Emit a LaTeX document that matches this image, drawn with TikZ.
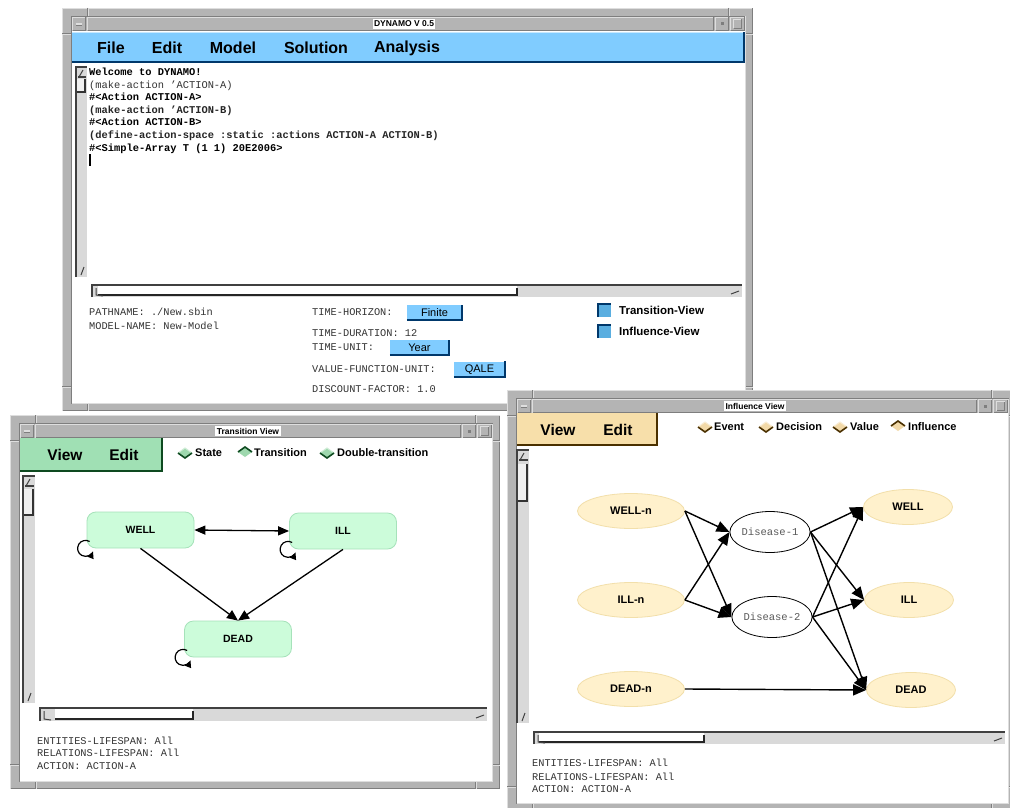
\documentclass[tikz,border=0pt]{standalone}
\usepackage{fontspec}
\setmainfont{Liberation Sans}
\newfontfamily\monof{Liberation Mono}
\usetikzlibrary{arrows.meta,shapes.geometric}

\definecolor{frm}{HTML}{B4B4B4}
\definecolor{frmhi}{HTML}{DEDEDE}
\definecolor{frmlo}{HTML}{7E7E7E}
\definecolor{trough}{HTML}{D9D9D9}
\definecolor{menublue}{HTML}{80CCFF}
\definecolor{navy}{HTML}{00386B}
\definecolor{chkblue}{HTML}{5AAEE0}
\definecolor{menugreen}{HTML}{A0E0B4}
\definecolor{dkgreen}{HTML}{0E4A20}
\definecolor{leggreen}{HTML}{9ED8AE}
\definecolor{stategreen}{HTML}{CCFCDA}
\definecolor{stateedge}{HTML}{A6E2BA}
\definecolor{menutan}{HTML}{F7DFAA}
\definecolor{dkbrown}{HTML}{4A3000}
\definecolor{legtan}{HTML}{F2D9A8}
\definecolor{nodetan}{HTML}{FFF1CC}
\definecolor{nodetanedge}{HTML}{F2DFAA}
\definecolor{infotext}{HTML}{333333}

% bevelled edges
\newcommand{\raisededge}[4]{%
  \draw[frmhi] ({#1+0.5},{#4-0.5}) -- ({#1+0.5},{#2+0.5}) -- ({#3-0.5},{#2+0.5});
  \draw[frmlo] ({#1+0.5},{#4-0.5}) -- ({#3-0.5},{#4-0.5}) -- ({#3-0.5},{#2+0.5});}
\newcommand{\sunkenedge}[4]{%
  \draw[frmlo] ({#1+0.5},{#4-0.5}) -- ({#1+0.5},{#2+0.5}) -- ({#3-0.5},{#2+0.5});
  \draw[frmhi] ({#1+0.5},{#4-0.5}) -- ({#3-0.5},{#4-0.5}) -- ({#3-0.5},{#2+0.5});}

% window frame: x1 y1 x2 y2 title title-centre-x
\newcommand{\motifwindow}[6]{%
  \pgfmathsetmacro\wxa{#1+10}\pgfmathsetmacro\wxb{#3-8}%
  \pgfmathsetmacro\wya{#2+9}\pgfmathsetmacro\wyb{#2+23}%
  \pgfmathsetmacro\wyc{#4-8}\pgfmathsetmacro\wym{#2+16}%
  \fill[frm] (#1,#2) rectangle (#3,#4);
  \raisededge{#1}{#2}{#3}{#4}
  \sunkenedge{(\wxa-1)}{(\wya-1)}{(\wxb+1)}{(\wyc+1)}
  % resize handle marks
  \foreach \mx in {#1+25,#3-25} {
    \draw[frmlo] (\mx,#2) -- (\mx,\wya-1);
    \draw[frmhi] (\mx+1,#2) -- (\mx+1,\wya-1);
    \draw[frmlo] (\mx,\wyc+1) -- (\mx,#4);
    \draw[frmhi] (\mx+1,\wyc+1) -- (\mx+1,#4);}
  \foreach \my in {#2+25,#4-25} {
    \draw[frmlo] (#1,\my) -- (\wxa-1,\my);
    \draw[frmhi] (#1,\my+1) -- (\wxa-1,\my+1);
    \draw[frmlo] (\wxb+1,\my) -- (#3,\my);
    \draw[frmhi] (\wxb+1,\my+1) -- (#3,\my+1);}
  \fill[white] (\wxa,\wyb) rectangle (\wxb,\wyc);
  % title bar
  \fill[frm] (\wxa,\wya) rectangle (\wxb,\wyb);
  \raisededge{\wxa}{\wya}{(\wxa+14)}{\wyb}
  \raisededge{(\wxa+15)}{\wya}{(\wxb-31)}{\wyb}
  \raisededge{(\wxb-30)}{\wya}{(\wxb-16)}{\wyb}
  \raisededge{(\wxb-15)}{\wya}{\wxb}{\wyb}
  % minimise, iconify and maximise buttons
  \fill[frmhi] (\wxa+4,\wym-1) rectangle (\wxa+10,\wym+1);
  \draw[frmlo] (\wxa+4,\wym+1) -- (\wxa+10,\wym+1);
  \fill[frmlo] (\wxb-24,\wym-1.5) rectangle (\wxb-21,\wym+1.5);
  \raisededge{(\wxb-12)}{(\wya+2)}{(\wxb-3)}{(\wyb-2)}
  \node[wintitle] at (#6,\wym) {#5};
}

% scrollbars
\newcommand{\vscroll}[6]{% x1 y1 x2 y2 thumb-top thumb-bottom
  \fill[trough] (#1,#2) rectangle (#3,#4);
  \fill[white!60!trough] ({#1+1},#5) rectangle ({#3-2},#6);
  \draw[black!75, line width=1.5pt] (#1,#4) -- (#1,#2) -- (#3,#2);
  \draw[black!80, line width=1.5pt] ({#1+1},#6) -- ({#3-2},#6) -- ({#3-2},#5);
  \draw[black!75, line width=1pt] ({#1+3},{#2+10}) -- ({#1+7},{#2+3});
  \draw[black!75, line width=1.4pt] ({#1+2},{#2+10}) -- ({#3-1},{#2+10});
  \draw[black!75, line width=1pt] ({#1+5},{#4-2}) -- ({#1+8},{#4-10});
}
\newcommand{\hscroll}[6]{% x1 y1 x2 y2 thumb-left thumb-right
  \fill[trough] (#1,#2) rectangle (#3,#4);
  \fill[white] (#5,{#2+1}) rectangle (#6,{#4-2});
  \draw[black!75, line width=1.5pt] (#1,#4) -- (#1,#2) -- (#3,#2);
  \draw[black!85, line width=1.5pt] (#5,{#4-2}) -- (#6,{#4-2}) -- (#6,{#2+3});
  \draw[black!75, line width=1pt] ({#1+4},{#2+3}) -- ({#1+4},{#4-2}) -- ({#1+11},{#4-1});
  \draw[black!75, line width=1pt] ({#3-11},{#4-3}) -- ({#3-3},{#4-6});
}

% legend icon: cx cy fill edge raised(1)/flat(0)
\newcommand{\legdiamond}[5]{%
  \fill[#3] ({#1-7},#2) -- (#1,{#2-5}) -- ({#1+7},#2) -- (#1,{#2+5}) -- cycle;
  \ifnum#5=1
    \draw[#4, line width=1.6pt] ({#1-7},#2) -- (#1,{#2-5}) -- ({#1+7},#2);
  \else
    \draw[white!50!#3, line width=1pt] ({#1-7},#2) -- (#1,{#2-5}) -- ({#1+7},#2);
    \draw[#4, line width=1.6pt] ({#1-7},#2) -- (#1,{#2+5}) -- ({#1+7},#2);
  \fi}

\begin{document}
\begin{tikzpicture}[x=1pt,y=-1pt,
  wintitle/.style={fill=white, inner sep=1.5pt, font=\fontsize{8.5}{10}\selectfont\bfseries},
  menuitem/.style={inner sep=0pt, font=\fontsize{16}{18}\selectfont\bfseries},
  submenu/.style={inner sep=0pt, font=\fontsize{15.5}{18}\selectfont\bfseries},
  legtext/.style={anchor=west, inner sep=0pt, font=\fontsize{11}{13}\selectfont\bfseries},
  termline/.style={anchor=base west, inner sep=0pt, font=\monof\bfseries\fontsize{10.4}{12}\selectfont},
  infoline/.style={anchor=base west, inner sep=0pt, text=infotext, font=\monof\fontsize{10.3}{12}\selectfont},
  btn/.style={fill=menublue, inner sep=0pt, minimum height=15pt, text depth=0pt, font=\fontsize{11}{13}\selectfont},
  chkbox/.style={fill=chkblue, inner sep=0pt, minimum size=13pt},
  stateblk/.style={rectangle, rounded corners=9pt, fill=stategreen, draw=stateedge, line width=0.8pt,
    minimum width=107pt, minimum height=36pt, font=\fontsize{10.5}{12}\selectfont\bfseries},
  chance/.style={ellipse, fill=nodetan, draw=nodetanedge, line width=0.8pt, inner sep=0pt,
    minimum width=107pt, minimum height=35pt, font=\fontsize{11}{13}\selectfont\bfseries},
  disease/.style={ellipse, fill=white, draw=black, line width=0.8pt, inner sep=0pt,
    minimum width=76pt, minimum height=41pt, text=black!65, font=\monof\fontsize{10.5}{12}\selectfont},
  tarr/.style={-{Triangle[length=11pt,width=9.5pt]}, line width=1.3pt},
  tdbl/.style={{Triangle[length=11pt,width=9pt]}-{Triangle[length=11pt,width=9pt]}, line width=1.3pt},
  iarr/.style={-{Triangle[length=13pt,width=11pt]}, line width=1.4pt},
  loopend/.style={-{Triangle[length=7pt,width=6.5pt]}, line width=1.2pt}
]
\useasboundingbox (0,0) rectangle (1010,808);
\fill[white] (0,0) rectangle (1010,808);

%% ---------------- main window ----------------
\motifwindow{62}{8}{753}{411}{DYNAMO V 0.5}{404}
\fill[menublue] (72,32) rectangle (745,63);
\draw[white!55!menublue] (72,32.5) -- (744,32.5);
\draw[navy, line width=2pt] (72,62) -- (744,62) -- (744,32);
\node[menuitem] (mfile) at (111,48) {File};
\node[menuitem] (medit) at (167,48) {Edit};
\node[menuitem] (mmodel) at (233,48) {Model};
\node[menuitem] (msol) at (316,48) {Solution};
\node[menuitem] (manal) at (407,48) {Analysis};

\vscroll{76}{67}{87}{277}{79}{92}
\node[termline] (t1) at (89,75.5) {Welcome to DYNAMO!};
\node[termline, font=\monof\fontsize{10.4}{12}\selectfont, text=black!80] (t2) at (89,88.1) {(make-action ’ACTION-A)};
\node[termline] (t3) at (89,100.7) {\#<Action ACTION-A>};
\node[termline, text=black!85] (t4) at (89,113.3) {(make-action ’ACTION-B)};
\node[termline] (t5) at (89,125.9) {\#<Action ACTION-B>};
\node[termline, text=black!85] (t6) at (89,138.5) {(define-action-space :static :actions ACTION-A ACTION-B)};
\node[termline] (t7) at (89,151.1) {\#<Simple-Array T (1 1) 20E2006>};
\fill[black] (89,153.5) rectangle (91,165.5);

\hscroll{92}{285}{742}{297}{98}{517}

\node[infoline] (path) at (89,315.5) {PATHNAME: ./New.sbin};
\node[infoline] (mname) at (89,329.5) {MODEL-NAME: New-Model};
\node[infoline] (thor) at (312,315.5) {TIME-HORIZON:};
\node[infoline] (tdur) at (312,336.5) {TIME-DURATION: 12};
\node[infoline] (tunit) at (312,350.5) {TIME-UNIT:};
\node[infoline] (vfu) at (312,372.5) {VALUE-FUNCTION-UNIT:};
\node[infoline] (disc) at (312,392.5) {DISCOUNT-FACTOR: 1.0};

\node[btn, minimum width=55pt] (bfin) at (434.5,312.5) {Finite};
\node[btn, minimum width=59pt] (byear) at (419.5,347.5) {Year};
\node[btn, minimum width=51pt] (bqale) at (479.5,369) {QALE};
\foreach \b in {bfin,byear,bqale}
  \draw[navy, line width=2pt] (\b.south west) -- (\b.south east) -- (\b.north east);

\node[chkbox] (ctv) at (604.5,310.5) {};
\node[chkbox] (civ) at (604.5,331.5) {};
\foreach \c in {ctv,civ}
  \draw[navy, line width=2pt] (\c.south west) -- (\c.north west) -- (\c.north east);
\node[legtext, font=\fontsize{11.5}{13}\selectfont\bfseries] (ltv) at (619,310) {Transition-View};
\node[legtext, font=\fontsize{11.5}{13}\selectfont\bfseries] (liv) at (619,331) {Influence-View};

%% ---------------- transition view ----------------
\motifwindow{10}{415}{500}{789}{Transition View}{248}
\fill[menugreen] (20,438) rectangle (163,472);
\draw[dkgreen, line width=2pt] (20,471) -- (162,471) -- (162,438);
\node[submenu] (tview) at (65,455) {View};
\node[submenu] (tedit) at (124,455) {Edit};

\legdiamond{185}{453}{leggreen}{dkgreen}{0}
\node[legtext] (lstate) at (195,453) {State};
\legdiamond{245}{452}{leggreen}{dkgreen}{1}
\node[legtext] (ltrans) at (254,453) {Transition};
\legdiamond{327}{453}{leggreen}{dkgreen}{0}
\node[legtext] (ldbl) at (337,453) {Double-transition};

\vscroll{23}{476}{35}{703}{489}{515}

\node[stateblk] (well) at (140.5,530) {WELL};
\node[stateblk] (ill) at (343,531) {ILL};
\node[stateblk] (dead) at (238,639) {DEAD};

\draw[tdbl] (well.east) -- (ill.west);
\draw[tarr] (well.south) -- (dead.north);
\draw[tarr] (ill.south) -- (dead.north);
% self transitions: a small loop at the lower left corner of each state
\foreach \s in {well,ill,dead}
  \draw[loopend] ([shift={(-1,0)}]\s.south west) ++(60:8pt)
     arc[start angle=60, end angle=338, radius=8pt];

\hscroll{40}{708}{487}{721}{55}{193}

\node[infoline] (tent) at (37,744.5) {ENTITIES-LIFESPAN: All};
\node[infoline] (trel) at (37,756.5) {RELATIONS-LIFESPAN: All};
\node[infoline] (tact) at (37,769.5) {ACTION: ACTION-A};

%% ---------------- influence view ----------------
\motifwindow{507}{390}{1016}{811}{Influence View}{755}
\fill[menutan] (517,413) rectangle (658,446);
\draw[dkbrown, line width=2pt] (517,445) -- (657,445) -- (657,413);
\node[submenu] (iview) at (558,430) {View};
\node[submenu] (iedit) at (618,430) {Edit};

\legdiamond{705}{427}{legtan}{dkbrown}{0}
\node[legtext] (levent) at (714,427) {Event};
\legdiamond{766}{427}{legtan}{dkbrown}{0}
\node[legtext] (ldec) at (776,427) {Decision};
\legdiamond{840}{427}{legtan}{dkbrown}{0}
\node[legtext] (lval) at (850,427) {Value};
\legdiamond{898}{426}{legtan}{dkbrown}{1}
\node[legtext] (linf) at (908,427) {Influence};

\vscroll{517}{450}{529}{723}{464}{501}

\node[chance] (welln) at (631,511) {WELL-n};
\node[chance] (illn) at (631,600) {ILL-n};
\node[chance] (deadn) at (631,689) {DEAD-n};
\node[disease] (d1) at (770,532) {Disease-1};
\node[disease] (d2) at (772,617) {Disease-2};
\node[chance, minimum width=89pt] (wellt) at (908,507) {WELL};
\node[chance, minimum width=89pt] (illt) at (909,600) {ILL};
\node[chance, minimum width=89pt] (deadt) at (911,690) {DEAD};

\foreach \a/\b in {welln/d1,welln/d2,illn/d1,illn/d2,d1/wellt,d1/illt,d1/deadt,d2/wellt,d2/illt,d2/deadt,deadn/deadt}
  \draw[iarr] (\a.east) -- (\b.west);

\hscroll{534}{732}{1005}{744}{539}{704}

\node[infoline] (ient) at (532,766.5) {ENTITIES-LIFESPAN: All};
\node[infoline] (irel) at (532,780.5) {RELATIONS-LIFESPAN: All};
\node[infoline] (iact) at (532,792.5) {ACTION: ACTION-A};
\end{tikzpicture}
\end{document}
